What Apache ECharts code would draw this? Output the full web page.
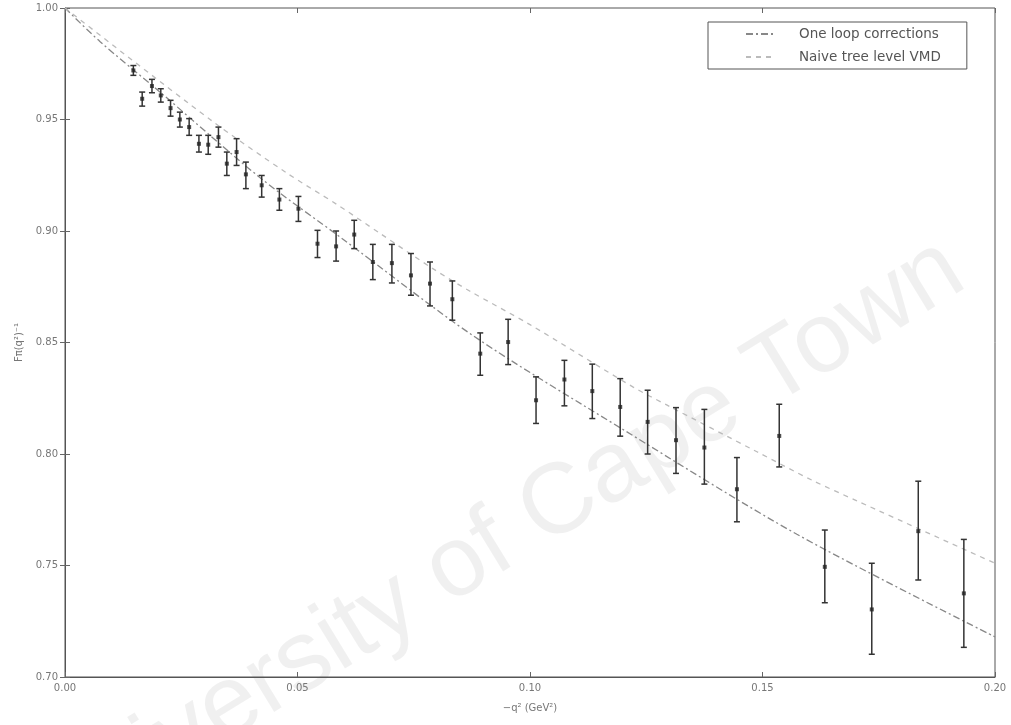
<!DOCTYPE html>
<html>
<head>
<meta charset="utf-8">
<script src="https://cdn.jsdelivr.net/npm/echarts@6/dist/echarts.min.js"></script>
<style>html,body{margin:0;padding:0;background:#fff;}#c{width:1011px;height:725px;}</style>
</head>
<body>
<div id="c"></div>
<script>
// Data
const xVals = [0.0147,0.0166,0.0187,0.0206,0.0227,0.0247,0.0267,0.0288,0.0308,0.0330,0.0348,0.0369,0.0389,0.0423,0.0461,0.0502,0.0543,0.0583,0.0622,0.0662,0.0703,0.0744,0.0785,0.0833,0.0893,0.0953,0.1013,0.1074,0.1134,0.1194,0.1253,0.1314,0.1375,0.1445,0.1536,0.1634,0.1735,0.1835,0.1933];
const yVals = [0.9720,0.9593,0.9650,0.9608,0.9551,0.9500,0.9466,0.9391,0.9387,0.9421,0.9302,0.9354,0.9254,0.9205,0.9141,0.9100,0.8943,0.8931,0.8984,0.8861,0.8856,0.8801,0.8764,0.8694,0.8450,0.8502,0.8241,0.8334,0.8282,0.8211,0.8144,0.8062,0.8029,0.7842,0.8081,0.7494,0.7303,0.7654,0.7375];
const yHigh = [0.9742,0.9623,0.9680,0.9638,0.9586,0.9533,0.9504,0.9429,0.9429,0.9466,0.9354,0.9414,0.9309,0.9249,0.9190,0.9155,0.9003,0.9000,0.9048,0.8940,0.8940,0.8899,0.8861,0.8776,0.8543,0.8604,0.8346,0.8420,0.8403,0.8338,0.8286,0.8208,0.8200,0.7984,0.8223,0.7659,0.7510,0.7878,0.7617];
const yLow = [0.9698,0.9560,0.9620,0.9578,0.9515,0.9466,0.9429,0.9354,0.9344,0.9376,0.9249,0.9294,0.9190,0.9152,0.9093,0.9043,0.8881,0.8865,0.8921,0.8782,0.8767,0.8712,0.8664,0.8600,0.8353,0.8401,0.8137,0.8216,0.8159,0.8080,0.8000,0.7913,0.7865,0.7696,0.7942,0.7333,0.7102,0.7435,0.7133];

const oneLoopX = [0,0.0075,0.0206,0.0419,0.0600,0.0878,0.1200,0.1574,0.2000];
const oneLoopY = [1.000,0.985,0.962,0.924,0.896,0.853,0.811,0.764,0.718];
const naiveX = [0,0.0312,0.0477,0.0584,0.0677,0.0792,0.0871,0.1000,0.1222,0.1294,0.1488,0.1609,0.1703,0.2000];
const naiveY = [1.000,0.950,0.926,0.912,0.899,0.883,0.873,0.858,0.830,0.822,0.801,0.788,0.779,0.751];

const xTicks = ['0.00','0.05','0.10','0.15','0.20'];
const yTicks = ['0.70','0.75','0.80','0.85','0.90','0.95','1.00'];

const chart = echarts.init(document.getElementById('c'));
const axisCol = '#666';
const txtCol = '#777';
const fontFam = 'DejaVu Sans, sans-serif';

const errData = xVals.map((x,i)=>[x, yLow[i], yHigh[i]]);
const ptData = xVals.map((x,i)=>[x, yVals[i]]);

chart.setOption({
  animation:false,
  backgroundColor:'#fff',
  graphic:[{
    type:'text', z:-10, silent:true,
    x:955, y:262, rotation:0.55,
    style:{text:'University of Cape Town', font:'100px Liberation Sans, sans-serif', fill:'rgba(0,0,0,0.06)', textAlign:'right', textVerticalAlign:'middle'}
  }],
  grid:{left:65, right:16, top:8, bottom:48, show:true, borderColor:'#555', borderWidth:1},
  legend:{
    orient:'vertical', left:708, top:22,
    itemWidth:30, itemHeight:12, itemGap:9,
    padding:[5,26,5,37],
    borderColor:'#555', borderWidth:1, backgroundColor:'#fff',
    itemStyle:{opacity:0},
    textStyle:{color:'#555', fontSize:13.5, fontFamily:fontFam, padding:[0,0,0,18]},
    data:['One loop corrections','Naive tree level VMD']
  },
  xAxis:[{
    type:'value', min:0, max:0.2, interval:0.05,
    name:'\u2212q\u00b2 (GeV\u00b2)', nameLocation:'middle', nameGap:26,
    nameTextStyle:{color:txtCol, fontSize:10, fontFamily:fontFam},
    axisLine:{show:true, lineStyle:{color:'#555'}},
    axisTick:{inside:true, length:5, lineStyle:{color:axisCol}},
    axisLabel:{color:txtCol, fontSize:10, fontFamily:fontFam, margin:6, formatter:(v)=>xTicks[Math.round(v/0.05)]},
    splitLine:{show:false}
  },{
    type:'value', position:'top', min:0, max:0.2, interval:0.05,
    axisLine:{show:false}, axisTick:{inside:true, length:5, lineStyle:{color:axisCol}},
    axisLabel:{show:false}, splitLine:{show:false}
  }],
  yAxis:[{
    type:'value', min:0.7, max:1.0, interval:0.05,
    name:'F\u03c0(q\u00b2)\u207b\u00b9', nameLocation:'middle', nameGap:40,
    nameTextStyle:{color:txtCol, fontSize:10, fontFamily:fontFam},
    axisLine:{show:true, lineStyle:{color:'#555'}},
    axisTick:{inside:true, length:5, lineStyle:{color:axisCol}},
    axisLabel:{color:txtCol, fontSize:10, fontFamily:fontFam, margin:7, formatter:(v)=>yTicks[Math.round((v-0.7)/0.05)]},
    splitLine:{show:false}
  },{
    type:'value', position:'right', min:0.7, max:1.0, interval:0.05,
    axisLine:{show:false}, axisTick:{inside:true, length:5, lineStyle:{color:axisCol}},
    axisLabel:{show:false}, splitLine:{show:false}
  }],
  series:[
    {
      name:'One loop corrections', type:'line', smooth:0.3, symbol:'none',
      data: oneLoopX.map((x,i)=>[x, oneLoopY[i]]),
      itemStyle:{color:'#888'},
      lineStyle:{color:'#888', width:1.3, type:[7,3,2,3]}, z:2
    },
    {
      name:'Naive tree level VMD', type:'line', smooth:0.3, symbol:'none',
      data: naiveX.map((x,i)=>[x, naiveY[i]]),
      itemStyle:{color:'#bbb'},
      lineStyle:{color:'#bbb', width:1.3, type:[5,5]}, z:2
    },
    {
      type:'custom', name:'err', z:3,
      renderItem:(params, api)=>{
        const x = api.value(0);
        const pLo = api.coord([x, api.value(1)]);
        const pHi = api.coord([x, api.value(2)]);
        const w = 3;
        const st = {stroke:'#333', lineWidth:1.5};
        return {type:'group', children:[
          {type:'line', shape:{x1:pLo[0], y1:pLo[1], x2:pHi[0], y2:pHi[1]}, style:st},
          {type:'line', shape:{x1:pLo[0]-w, y1:pLo[1], x2:pLo[0]+w, y2:pLo[1]}, style:st},
          {type:'line', shape:{x1:pHi[0]-w, y1:pHi[1], x2:pHi[0]+w, y2:pHi[1]}, style:st}
        ]};
      },
      data: errData
    },
    {
      type:'scatter', name:'data', symbol:'rect', symbolSize:4, z:4,
      itemStyle:{color:'#222'},
      data: ptData
    }
  ]
});
</script>
</body>
</html>
